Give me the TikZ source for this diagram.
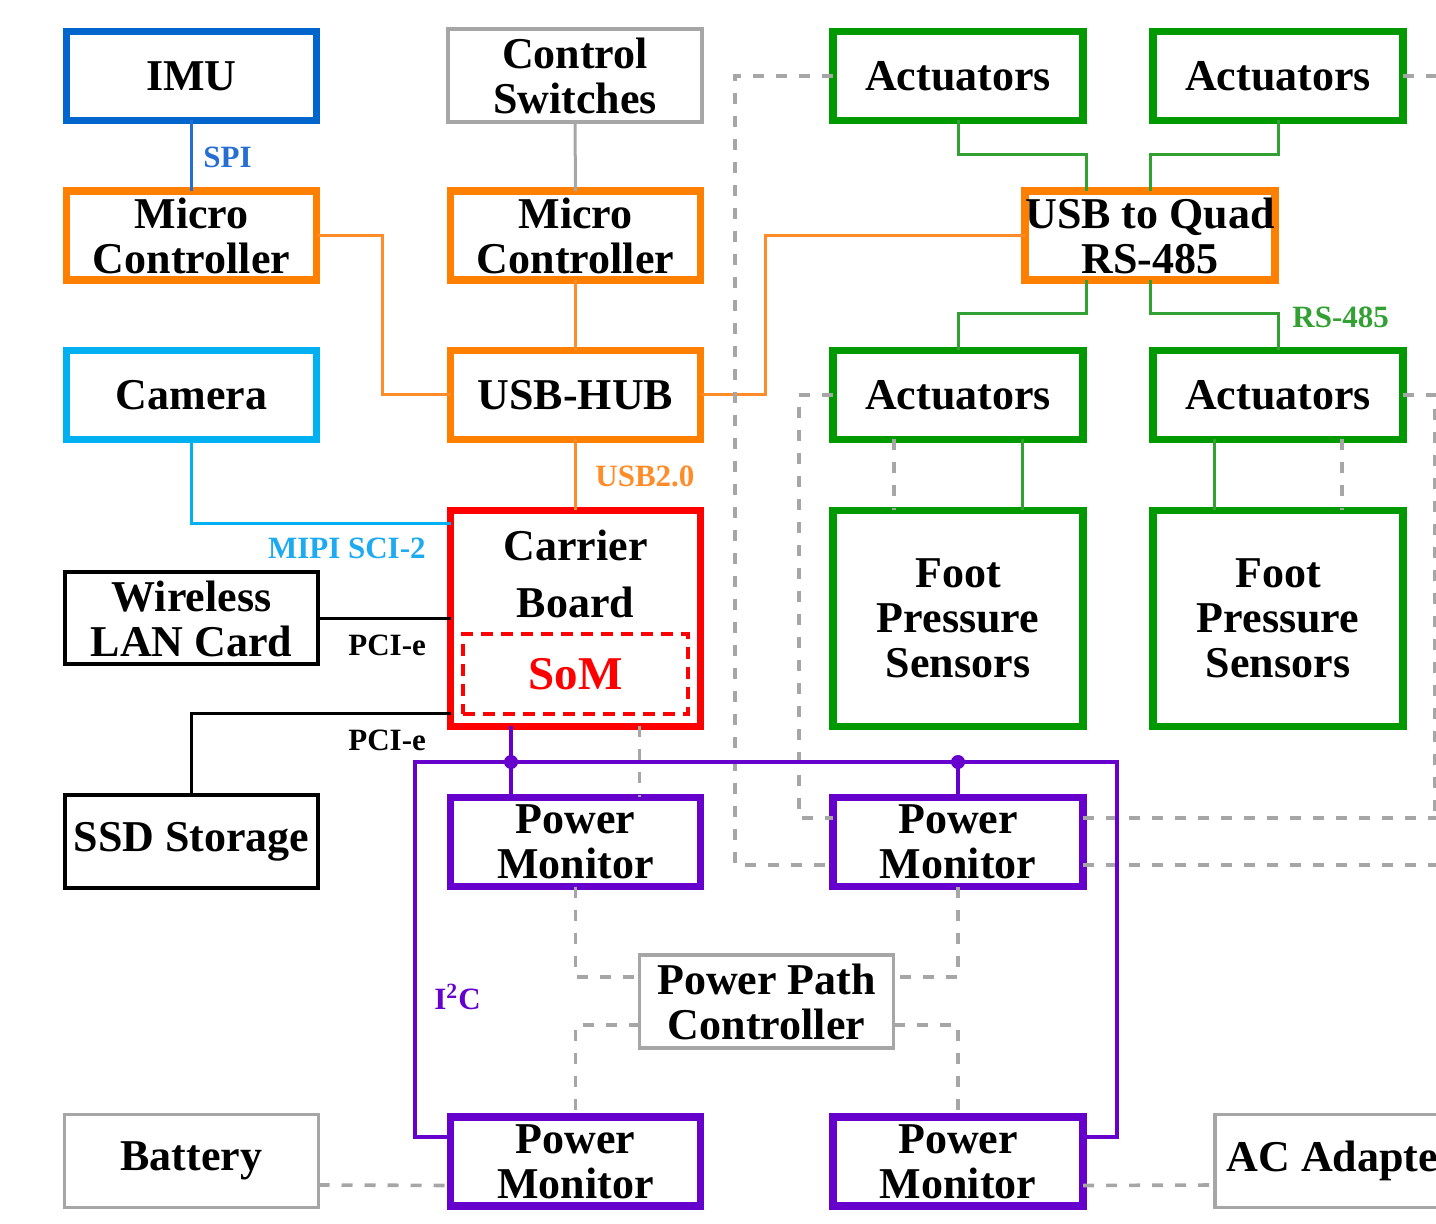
\documentclass[tikz,border=0pt]{standalone}
\usepackage{fontspec}
\setmainfont{Liberation Serif}
\usetikzlibrary{calc}
\definecolor{cIMU}{RGB}{0,102,204}
\definecolor{cIMUl}{RGB}{38,110,210}
\definecolor{cOr}{RGB}{255,128,0}
\definecolor{cOrl}{RGB}{255,140,40}
\definecolor{cCam}{RGB}{0,176,240}
\definecolor{cCaml}{RGB}{30,170,240}
\definecolor{cGreen}{RGB}{0,153,0}
\definecolor{cGreenl}{RGB}{50,160,50}
\definecolor{cPur}{RGB}{102,0,204}
\definecolor{cGray}{RGB}{166,166,166}
\definecolor{cRed}{RGB}{255,0,0}
\begin{document}
\begin{tikzpicture}[x=0.5pt,y=-0.5pt,
  boxfont/.style={font=\fontsize{22}{22.5}\selectfont\bfseries},
  box/.style={draw, rectangle, outer sep=0pt, inner sep=0pt, align=center, boxfont,
    minimum width=125pt, minimum height=44.5pt, line width=3.8pt},
  thinbox/.style={box, line width=1.65pt, minimum width=127pt, minimum height=46.5pt},
  blackbox/.style={box, draw=black, line width=2pt, minimum width=126.5pt, minimum height=46pt},
  tallbox/.style={box, minimum height=108pt},
  txt/.style={align=center, inner sep=0pt, boxfont},
  lbl/.style={inner sep=0pt, font=\fontsize{15.5}{16}\selectfont\bfseries},
  conn/.style={line width=1.5pt},
  dsh/.style={draw=cGray, line width=1.8pt, dash pattern=on 5.5pt off 6pt},
  bus/.style={draw=cPur, line width=1.7pt},
  busdot/.style={circle, fill=cPur, inner sep=0pt, minimum size=7pt}
]
\clip (0,0) rectangle (1436,1224);

% ---------- nodes ----------
\node[box, draw=cIMU] (IMU) at (191.5,76) {IMU};
\node[thinbox, draw=cGray] (CS) at (575,75.5) {Control\\Switches};
\node[box, draw=cOr] (MC1) at (191.5,235.5) {Micro\\Controller};
\node[box, draw=cOr] (MC2) at (575.5,235.5) {Micro\\Controller};
\node[box, draw=cCam] (CAM) at (191.5,395) {Camera};
\node[box, draw=cOr] (HUB) at (575.5,395) {USB-HUB};
\node[tallbox, draw=cRed] (CB) at (575.5,618.5) {};
\node[txt] (CBt) at (575.5,574) {Carrier\\[6pt]Board};
\node[draw=cRed, line width=2pt, dash pattern=on 6pt off 4pt, minimum width=112.5pt,
  minimum height=40pt, inner sep=0pt, text=cRed, font=\fontsize{23.5}{24}\selectfont\bfseries] (SoM) at (575.5,674) {SoM};
\node[blackbox] (WLAN) at (191.5,618.5) {Wireless\\LAN Card};
\node[blackbox] (SSD) at (191.5,841.5) {SSD Storage};

\node[box, draw=cGreen] (ATL) at (958,76) {Actuators};
\node[box, draw=cGreen] (ATR) at (1278,76) {Actuators};
\node[box, draw=cOr] (USBQ) at (1150,235.5) {USB to Quad\\RS-485};
\node[box, draw=cGreen] (AML) at (958,395) {Actuators};
\node[box, draw=cGreen] (AMR) at (1278,395) {Actuators};
\node[tallbox, draw=cGreen] (FL) at (958,618.5) {Foot\\Pressure\\Sensors};
\node[tallbox, draw=cGreen] (FR) at (1278,618.5) {Foot\\Pressure\\Sensors};

\node[box, draw=cPur] (PM1) at (575.5,842) {Power\\Monitor};
\node[box, draw=cPur] (PM2) at (958,842) {Power\\Monitor};
\node[thinbox, draw=cGray] (PPC) at (766.5,1001.5) {Power Path\\Controller};
\node[box, draw=cPur] (PM3) at (575.5,1161.5) {Power\\Monitor};
\node[box, draw=cPur] (PM4) at (958,1161.5) {Power\\Monitor};
\node[thinbox, draw=cGray] (BAT) at (191.5,1161) {Battery};
\node[thinbox, draw=cGray] (AC) at (1342,1161) {AC Adapter};

% ---------- solid connectors ----------
\draw[conn, draw=cIMUl] (IMU.south) -- (MC1.north);
\node[lbl, text=cIMUl, anchor=west] (lSPI) at (203,157) {SPI};
\draw[conn, draw=cGray] (CS.south) -- (MC2.north);
\draw[conn, draw=cOrl] (MC1.east) -- ($(MC1.east)+(66,0)$) |- (HUB.west);
\draw[conn, draw=cOrl] (MC2.south) -- (HUB.north);
\draw[conn, draw=cOrl] (HUB.east) -- ($(HUB.east)+(65,0)$) |- (USBQ.west);
\draw[conn, draw=cOrl] (HUB.south) -- (CB.north);
\node[lbl, text=cOrl, anchor=west] (lUSB) at (595,476) {USB2.0};
\draw[conn, draw=cCam] (CAM.south) |- ($(CB.north west)+(0,13)$);
\node[lbl, text=cCaml, anchor=east] (lMIPI) at (426,548) {MIPI SCI-2};
\draw[conn, draw=black] (WLAN.east) -- (WLAN.east -| CB.west);
\node[lbl, anchor=west] (lPCI1) at (348,645) {PCI-e};
\draw[conn, draw=black] (SSD.north) |- ($(CB.south west)+(0,-13)$);
\node[lbl, anchor=west] (lPCI2) at (348,740) {PCI-e};

\draw[conn, draw=cGreenl] (ATL.south) -- ++(0,34) -| ($(USBQ.north)+(-64,0)$);
\draw[conn, draw=cGreenl] (ATR.south) -- ++(0,34) -| (USBQ.north);
\draw[conn, draw=cGreenl] ($(USBQ.south)+(-64,0)$) -- ++(0,34) -| (AML.north);
\draw[conn, draw=cGreenl] (USBQ.south) -- ++(0,34) -| (AMR.north);
\node[lbl, text=cGreenl, anchor=west] (lRS) at (1292,317) {RS-485};
\draw[conn, draw=cGreenl] ($(AML.south)+(64,0)$) -- ($(FL.north)+(64,0)$);
\draw[conn, draw=cGreenl] ($(AMR.south)+(-64,0)$) -- ($(FR.north)+(-64,0)$);

% ---------- dashed power lines ----------
\draw[dsh] ($(AML.south)+(-64,0)$) -- ($(FL.north)+(-64,0)$);
\draw[dsh] ($(AMR.south)+(64,0)$) -- ($(FR.north)+(64,0)$);
\draw[dsh] ($(CB.south)+(64,0)$) -- ($(PM1.north)+(64,0)$);
\coordinate (dA) at (735,76);
\coordinate (dB) at (799,395);
\draw[dsh] (ATL.west) -- (dA) |- ($(PM2.west)+(0,23)$);
\draw[dsh] (AML.west) -- (dB) |- ($(PM2.west)+(0,-24)$);
\coordinate (eTR) at (1450,76);
\coordinate (eMR) at (1434.5,395);
\coordinate (e818) at (1450,818);
\coordinate (e865) at (1450,865);
\draw[dsh] (ATR.east) -- (eTR);
\draw[dsh] (AMR.east) -- (eMR) -- (eMR |- e818);
\draw[dsh] ($(PM2.east)+(0,-24)$) -- (e818);
\draw[dsh] ($(PM2.east)+(0,23)$) -- (e865);
\draw[dsh] (PM1.south) |- ($(PPC.west)+(0,-24.5)$);
\draw[dsh] ($(PPC.west)+(0,23.5)$) -| (PM3.north);
\draw[dsh] (PM2.south) |- ($(PPC.east)+(0,-24.5)$);
\draw[dsh] ($(PPC.east)+(0,23.5)$) -| (PM4.north);
\draw[dsh] ($(BAT.east)+(0,24)$) -- ($(PM3.west)+(0,24)$);
\draw[dsh] ($(PM4.east)+(0,24)$) -- ($(AC.west)+(0,24)$);

% ---------- I2C bus ----------
\coordinate (busL) at (415,762);
\coordinate (busR) at (1117,762);
\coordinate (cbI) at ($(CB.south)+(-64.5,0)$);
\coordinate (pmI) at ($(PM1.north)+(-64.5,0)$);
\draw[bus] ($(PM3.west)+(0,-24.5)$) -| (busL) -- (busR) |- ($(PM4.east)+(0,-24.5)$);
\draw[bus] (cbI) -- (pmI);
\node[busdot] (d1) at (cbI |- busL) {};
\draw[bus] (PM2.north) -- (PM2.north |- busL);
\node[busdot] (d2) at (PM2.north |- busL) {};
\node[lbl, text=cPur, anchor=west] (lI2C) at (434,997) {I\textsuperscript{2}C};
\end{tikzpicture}
\end{document}
